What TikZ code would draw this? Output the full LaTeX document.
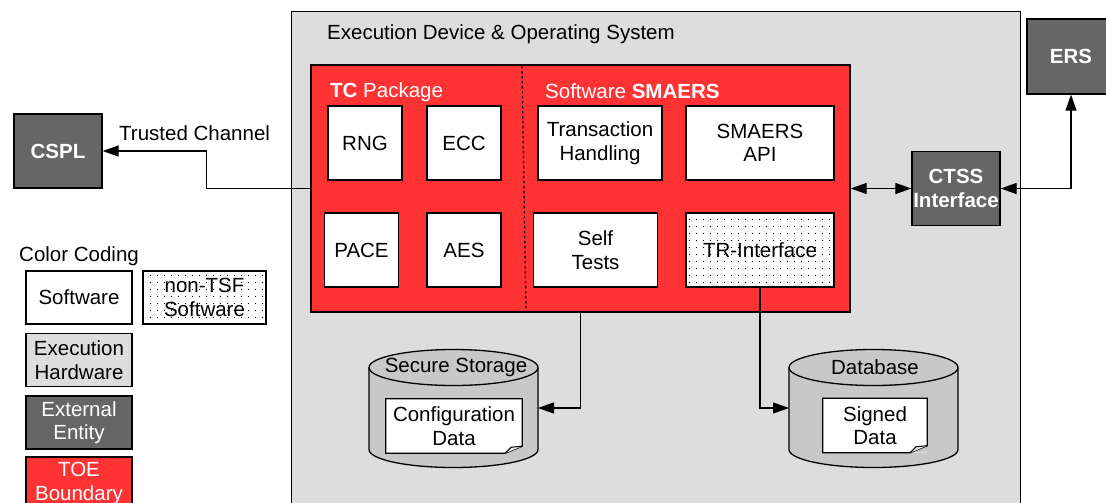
\documentclass[tikz,border=0pt]{standalone}
\usepackage{fontspec}
\setmainfont{Liberation Sans}
\usepackage{tikz}
\usetikzlibrary{calc}
\usetikzlibrary{arrows.meta,positioning,patterns}

\definecolor{ExecGray}{HTML}{DDDDDD}
\definecolor{ExtGray}{HTML}{666666}
\definecolor{ToeRed}{HTML}{FF3333}
\definecolor{CylGray}{HTML}{C8C8C8}
\definecolor{FoldGray}{HTML}{E8E8E8}

\pgfdeclarepatternformonly{sparsedots}{\pgfqpoint{-1pt}{-1pt}}{\pgfqpoint{8pt}{8pt}}{\pgfqpoint{7pt}{7pt}}%
  {\pgfpathcircle{\pgfqpoint{3.5pt}{3.5pt}}{0.6pt}\pgfusepath{fill}}

% folded corner and frame of a document node
\newcommand{\DocCorner}[1]{%
  \fill[CylGray] ($(#1.south east)+(-17,0)$) -- (#1.south east) -- ($(#1.south east)+(0,-7)$) -- cycle;
  \draw[line width=1.3pt] (#1.south west) -- (#1.north west) -- (#1.north east)
    -- ($(#1.south east)+(0,-7)$) -- ($(#1.south east)+(-17,0)$) -- cycle;
  \draw[line width=1pt,fill=FoldGray] ($(#1.south east)+(-17,0)$) -- ($(#1.south east)+(-11,-6)$)
    -- ($(#1.south east)+(0,-7)$);}

\begin{document}
\begin{tikzpicture}[x=1pt,y=-1pt,>={Triangle[length=16pt,width=11pt]},
    every node/.style={font=\fontsize{20.5}{23.5}\selectfont,align=center,inner sep=0pt},
    sw/.style={draw,line width=1.3pt,fill=white,minimum height=74pt},
    nontsf/.style={sw,postaction={pattern=sparsedots}},
    ext/.style={draw,line width=1.3pt,fill=ExtGray,text=white,minimum width=88pt,
      minimum height=74pt,font=\fontsize{20.5}{23.5}\selectfont\bfseries},
    key/.style={draw,line width=1.3pt,minimum width=106pt,minimum height=53pt},
    doc/.style={fill=white,minimum width=136pt,minimum height=54pt},
    link/.style={line width=1.2pt}]

  \useasboundingbox (0,0) rectangle (1106,503);
  \clip (0,0) rectangle (1106,503);

  \node (exec) [draw,line width=1.3pt,fill=ExecGray,anchor=north west,
    minimum width=729pt,minimum height=520pt] at (291,11) {};
  \node (execlabel) [anchor=west] at (327,34) {Execution Device \& Operating System};

  \node (toe) [draw,line width=1.3pt,fill=ToeRed,minimum width=539pt,minimum height=247pt] at (580.5,188.5) {};
  \node (tclabel) [anchor=west,text=white] at (330,92) {\textbf{TC} Package};
  \node (swlabel) [anchor=west,text=white] at (545,91) {Software \textbf{SMAERS}};
  \draw[line width=1.3pt,dash pattern=on 2.5pt off 2.5pt] (522,66) -- (526,311);

  \node (rng) [sw,minimum width=74pt] at (365,143) {RNG};
  \node (ecc) [sw,minimum width=74pt,right of=rng,node distance=99pt] {ECC};
  \node (pace) [sw,minimum width=74pt] at (361.5,250) {PACE};
  \node (aes) [sw,minimum width=74pt,below of=ecc,node distance=107pt] {AES};

  \node (trans) [sw,minimum width=124pt] at (600,143) {Transaction\\Handling};
  \node (api) [sw,minimum width=148pt] at (760,143) {SMAERS\\API};
  \node (self) [sw,minimum width=124pt] at (595.5,250) {Self\\Tests};
  \node (tr) [nontsf,minimum width=148pt,below of=api,node distance=107pt] {TR-Interface};

  \node (ctss) [ext] at (956,188.5) {CTSS\\Interface};
  \node (ers) [ext,minimum height=75pt] at (1071,56.5) {ERS};
  \node (cspl) [ext] at (58,151) {CSPL};
  \node (chlabel) [anchor=west] at (119,133) {Trusted Channel};

  % color coding
  \node (legend) [anchor=west] at (19,256) {Color Coding};
  \node (keysw) [key,fill=white] at (79,297.5) {Software};
  \node (keynontsf) [key,fill=white,postaction={pattern=sparsedots},minimum width=123pt,
    right of=keysw,node distance=125.5pt] {non-TSF\\Software};
  \node (keyhw) [key,fill=ExecGray,below of=keysw,node distance=62.5pt] {Execution\\Hardware};
  \node (keyext) [key,fill=ExtGray,text=white,below of=keyhw,node distance=62.5pt] {External\\Entity};
  \node (keytoe) [key,fill=ToeRed,text=white,below of=keyext,node distance=61pt] {TOE\\Boundary};

  % storages
  \draw[line width=1.3pt,fill=CylGray] (369,367.5) -- (369,449.5)
    arc[start angle=180,end angle=360,x radius=84.5pt,y radius=18pt] -- (538,367.5)
    arc[start angle=0,end angle=180,x radius=84.5pt,y radius=18pt] -- cycle;
  \draw[line width=1.3pt] (369,367.5) arc[start angle=180,end angle=360,x radius=84.5pt,y radius=18pt];
  \draw[line width=1.3pt,fill=CylGray] (789,367.5) -- (789,449.5)
    arc[start angle=180,end angle=360,x radius=84.5pt,y radius=18pt] -- (958,367.5)
    arc[start angle=0,end angle=180,x radius=84.5pt,y radius=18pt] -- cycle;
  \draw[line width=1.3pt] (789,367.5) arc[start angle=180,end angle=360,x radius=84.5pt,y radius=18pt];
  \coordinate (ss-e) at (538,408);
  \coordinate (db-w) at (789,408);

  \node (sslabel) at (456,367) {Secure Storage};
  \node (dblabel) at (875,367) {Database};
  \node (cfg) [doc] at (454,426) {Configuration\\Data};
  \DocCorner{cfg}
  \node (sig) [doc,minimum width=104pt] at (875,425.5) {Signed\\Data};
  \DocCorner{sig}

  \draw[link,->] (toe.west) -| ($(cspl.east)+(104,0)$) -- (cspl.east);
  \draw[link,<->] (toe.east) -- (ctss.west);
  \draw[link,<->] (ctss.east) -| (ers.south);
  \draw[link,->] (toe.south) |- (ss-e);
  \draw[link,->] (tr.south) |- (db-w);
\end{tikzpicture}
\end{document}
